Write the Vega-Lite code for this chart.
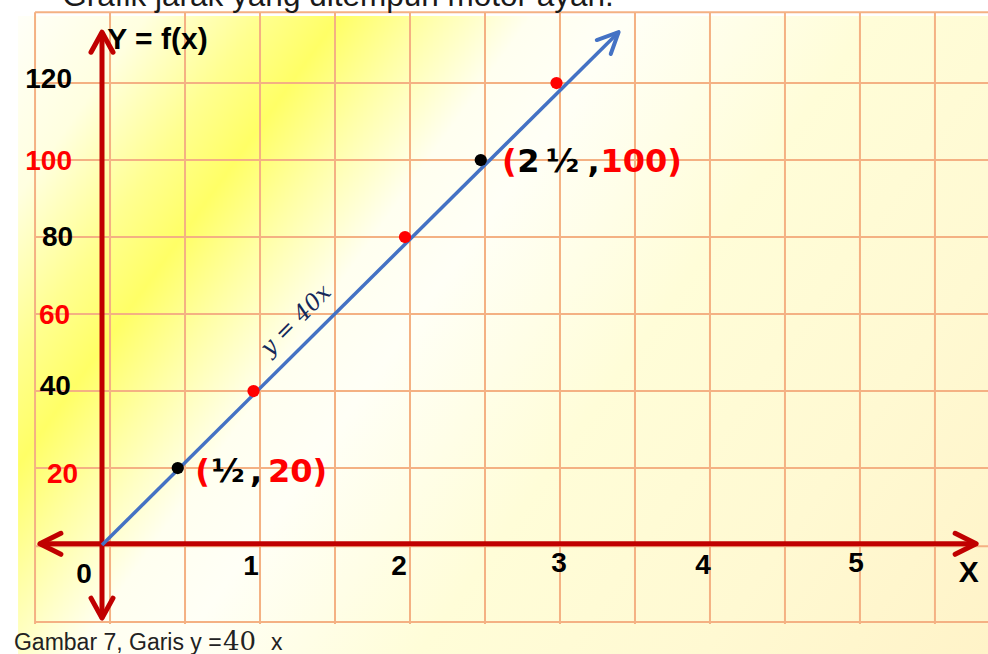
{
  "$schema": "https://vega.github.io/schema/vega-lite/v6.json",
  "width": 988,
  "height": 654,
  "padding": 0,
  "autosize": {"type": "none"},
  "background": "white",
  "config": {"view": {"stroke": null}},
  "datasets": {
    "bg": [{"x": -0.554, "x2": 5.85, "y": 137.4, "y2": -28.31}],
    "vgrid": [
      {"x": -0.442, "y": 138.4, "y2": -20.5}, {"x": 0.053, "y": 138.4, "y2": -20.5},
      {"x": 0.548, "y": 138.4, "y2": -20.5}, {"x": 1.043, "y": 138.4, "y2": -20.5},
      {"x": 1.538, "y": 138.4, "y2": -20.5}, {"x": 2.033, "y": 138.4, "y2": -20.5},
      {"x": 2.528, "y": 138.4, "y2": -20.5}, {"x": 3.023, "y": 138.4, "y2": -20.5},
      {"x": 3.518, "y": 138.4, "y2": -20.5}, {"x": 4.013, "y": 138.4, "y2": -20.5},
      {"x": 4.508, "y": 138.4, "y2": -20.5}, {"x": 5.003, "y": 138.4, "y2": -20.5},
      {"x": 5.498, "y": 138.4, "y2": -20.5}
    ],
    "hgrid": [
      {"x": -0.442, "x2": 5.85, "y": 138.4}, {"x": -0.442, "x2": 5.85, "y": 120},
      {"x": -0.442, "x2": 5.85, "y": 100}, {"x": -0.442, "x2": 5.85, "y": 80},
      {"x": -0.442, "x2": 5.85, "y": 60}, {"x": -0.442, "x2": 5.85, "y": 40},
      {"x": -0.442, "x2": 5.85, "y": 20}, {"x": -0.442, "x2": 5.85, "y": -0.3},
      {"x": -0.442, "x2": 5.85, "y": -20}
    ],
    "axes": [
      {"x": -0.41, "x2": 5.77, "y": 0.3, "y2": 0.3},
      {"x": 0, "x2": 0, "y": 133.2, "y2": -19.0}
    ],
    "arrows": [
      {"dir": "right", "x": 5.77, "y": 0.3},
      {"dir": "up", "x": 0, "y": 133.2},
      {"dir": "left", "x": -0.41, "y": 0.3},
      {"dir": "down", "x": 0, "y": -19.0}
    ],
    "line": [{"x": 0, "y": 0}, {"x": 3.41, "y": 133.2}],
    "points": [
      {"x": 0.5, "y": 20, "tone": "black"},
      {"x": 1, "y": 40, "tone": "red"},
      {"x": 2, "y": 80, "tone": "red"},
      {"x": 2.5, "y": 100, "tone": "black"},
      {"x": 3, "y": 120, "tone": "red"}
    ],
    "ylabels": [
      {"label": "120", "x": -0.198, "y": 120.8, "tone": "black"},
      {"label": "100", "x": -0.198, "y": 99.5, "tone": "red"},
      {"label": "80", "x": -0.191, "y": 79.7, "tone": "black"},
      {"label": "60", "x": -0.211, "y": 59.5, "tone": "red"},
      {"label": "40", "x": -0.205, "y": 41.0, "tone": "black"},
      {"label": "20", "x": -0.158, "y": 18.2, "tone": "red"}
    ],
    "xlabels": [
      {"label": "0", "x": -0.119, "y": -7.8},
      {"label": "1", "x": 0.983, "y": -5.7},
      {"label": "2", "x": 1.96, "y": -5.7},
      {"label": "3", "x": 3.017, "y": -4.9},
      {"label": "4", "x": 3.967, "y": -5.5},
      {"label": "5", "x": 4.977, "y": -4.9}
    ],
    "names": [
      {"label": "Y = f(x)", "x": 0.035, "y": 131.2},
      {"label": "X", "x": 5.655, "y": -7.3}
    ],
    "pairs": [
      {"label": "(", "x": 0.615, "y": 19.0, "tone": "red"},
      {"label": "½", "x": 0.722, "y": 19.0, "tone": "black"},
      {"label": ",", "x": 0.977, "y": 19.0, "tone": "black"},
      {"label": "20)", "x": 1.096, "y": 19.0, "tone": "red"},
      {"label": "(", "x": 2.64, "y": 99.5, "tone": "red"},
      {"label": "2", "x": 2.741, "y": 99.5, "tone": "black"},
      {"label": "½", "x": 2.93, "y": 99.5, "tone": "black"},
      {"label": ",", "x": 3.205, "y": 99.5, "tone": "black"},
      {"label": "100)", "x": 3.29, "y": 99.5, "tone": "red"}
    ],
    "eq": [{"label": "y = 40x", "x": 1.281, "y": 58.4}],
    "title": [{"label": "Grafik jarak yang ditempuh motor ayah.", "x": -0.262, "y": 140.0}],
    "caption": [
      {"label": "Gambar 7, Garis y =", "x": -0.581, "y": -27.27},
      {"label": "x", "x": 1.115, "y": -27.27}
    ],
    "captionNum": [{"label": "40", "x": 0.799, "y": -27.27}]
  },
  "encoding": {
    "x": {"field": "x", "type": "quantitative", "axis": null,
          "scale": {"domain": [-0.6733, 5.8482], "nice": false, "zero": false}},
    "y": {"field": "y", "type": "quantitative", "axis": null,
          "scale": {"domain": [-28.31, 141.56], "nice": false, "zero": false}}
  },
  "layer": [
    {
      "data": {"name": "bg"},
      "mark": {"type": "rect", "fill": {
        "gradient": "linear", "x1": 0, "y1": 0, "x2": 1.204, "y2": 0.566,
        "stops": [
          {"offset": 0, "color": "#FFFFF8"},
          {"offset": 0.09, "color": "#FFFFE0"},
          {"offset": 0.17, "color": "#FFFF90"},
          {"offset": 0.225, "color": "#FFFF66"},
          {"offset": 0.285, "color": "#FFFFA6"},
          {"offset": 0.36, "color": "#FFFFF0"},
          {"offset": 0.43, "color": "#FFFFF6"},
          {"offset": 0.6, "color": "#FFFDD8"},
          {"offset": 0.8, "color": "#FFF9D2"},
          {"offset": 1, "color": "#FFF3C8"}
        ]}},
      "encoding": {"x2": {"field": "x2"}, "y2": {"field": "y2"}}
    },
    {
      "data": {"name": "vgrid"},
      "mark": {"type": "rule", "stroke": "#F4B183", "strokeWidth": 2},
      "encoding": {"y2": {"field": "y2"}}
    },
    {
      "data": {"name": "hgrid"},
      "mark": {"type": "rule", "stroke": "#F4B183", "strokeWidth": 2},
      "encoding": {"x2": {"field": "x2"}}
    },
    {
      "data": {"name": "axes"},
      "mark": {"type": "rule", "stroke": "#C00000", "strokeWidth": 5},
      "encoding": {"x2": {"field": "x2"}, "y2": {"field": "y2"}}
    },
    {
      "data": {"name": "arrows"},
      "transform": [{"filter": "datum.dir === 'right'"}],
      "mark": {"type": "point", "shape": "M -1 -0.5 L 0 0 L -1 0.5", "size": 1764, "angle": 0,
               "filled": false, "stroke": "#C00000", "strokeWidth": 5, "strokeCap": "round", "strokeJoin": "round", "opacity": 1}
    },
    {
      "data": {"name": "arrows"},
      "transform": [{"filter": "datum.dir === 'up'"}],
      "mark": {"type": "point", "shape": "M -1 -0.55 L 0 0 L -1 0.55", "size": 1600, "angle": 270,
               "filled": false, "stroke": "#C00000", "strokeWidth": 5, "strokeCap": "round", "strokeJoin": "round", "opacity": 1}
    },
    {
      "data": {"name": "arrows"},
      "transform": [{"filter": "datum.dir === 'left'"}],
      "mark": {"type": "point", "shape": "M -1 -0.5 L 0 0 L -1 0.5", "size": 1764, "angle": 180,
               "filled": false, "stroke": "#C00000", "strokeWidth": 5, "strokeCap": "round", "strokeJoin": "round", "opacity": 1}
    },
    {
      "data": {"name": "arrows"},
      "transform": [{"filter": "datum.dir === 'down'"}],
      "mark": {"type": "point", "shape": "M -1 -0.55 L 0 0 L -1 0.55", "size": 1600, "angle": 90,
               "filled": false, "stroke": "#C00000", "strokeWidth": 5, "strokeCap": "round", "strokeJoin": "round", "opacity": 1}
    },
    {
      "data": {"name": "line"},
      "mark": {"type": "line", "stroke": "#4472C4", "strokeWidth": 3.5}
    },
    {
      "data": {"name": "line"},
      "transform": [{"filter": "datum.x > 1"}],
      "mark": {"type": "point", "shape": "M -1 -0.47 L 0 0 L -1 0.47", "size": 1764, "angle": 315,
               "filled": false, "stroke": "#4472C4", "strokeWidth": 4, "strokeCap": "round", "strokeJoin": "round", "opacity": 1}
    },
    {
      "data": {"name": "points"},
      "mark": {"type": "circle", "size": 150, "opacity": 1},
      "encoding": {"color": {"field": "tone", "type": "nominal", "legend": null,
        "scale": {"domain": ["black", "red"], "range": ["#000000", "#FF0000"]}}}
    },
    {
      "data": {"name": "ylabels"},
      "mark": {"type": "text", "font": "Liberation Sans", "fontWeight": "bold", "fontSize": 28, "align": "right", "baseline": "middle"},
      "encoding": {"text": {"field": "label"}, "color": {"field": "tone", "type": "nominal", "legend": null,
        "scale": {"domain": ["black", "red"], "range": ["#000000", "#FF0000"]}}}
    },
    {
      "data": {"name": "xlabels"},
      "mark": {"type": "text", "font": "Liberation Sans", "fontWeight": "bold", "fontSize": 28, "align": "center", "baseline": "middle", "color": "#000000"},
      "encoding": {"text": {"field": "label"}}
    },
    {
      "data": {"name": "names"},
      "mark": {"type": "text", "font": "Liberation Sans", "fontWeight": "bold", "fontSize": 30, "align": "left", "baseline": "middle", "color": "#000000"},
      "encoding": {"text": {"field": "label"}}
    },
    {
      "data": {"name": "pairs"},
      "mark": {"type": "text", "font": "DejaVu Sans", "fontWeight": "bold", "fontSize": 32, "align": "left", "baseline": "middle"},
      "encoding": {"text": {"field": "label"}, "color": {"field": "tone", "type": "nominal", "legend": null,
        "scale": {"domain": ["black", "red"], "range": ["#000000", "#FF0000"]}}}
    },
    {
      "data": {"name": "eq"},
      "mark": {"type": "text", "font": "DejaVu Serif", "fontStyle": "italic", "fontSize": 23, "angle": -45, "align": "center", "baseline": "middle", "color": "#14285A"},
      "encoding": {"text": {"field": "label"}}
    },
    {
      "data": {"name": "title"},
      "mark": {"type": "text", "font": "Liberation Sans", "fontSize": 31.5, "align": "left", "baseline": "alphabetic", "color": "#1A1A1A"},
      "encoding": {"text": {"field": "label"}}
    },
    {
      "data": {"name": "caption"},
      "mark": {"type": "text", "font": "Liberation Sans", "fontSize": 23, "align": "left", "baseline": "alphabetic", "color": "#222222"},
      "encoding": {"text": {"field": "label"}}
    },
    {
      "data": {"name": "captionNum"},
      "mark": {"type": "text", "font": "DejaVu Serif", "fontSize": 26, "align": "left", "baseline": "alphabetic", "color": "#222222"},
      "encoding": {"text": {"field": "label"}}
    }
  ]
}
